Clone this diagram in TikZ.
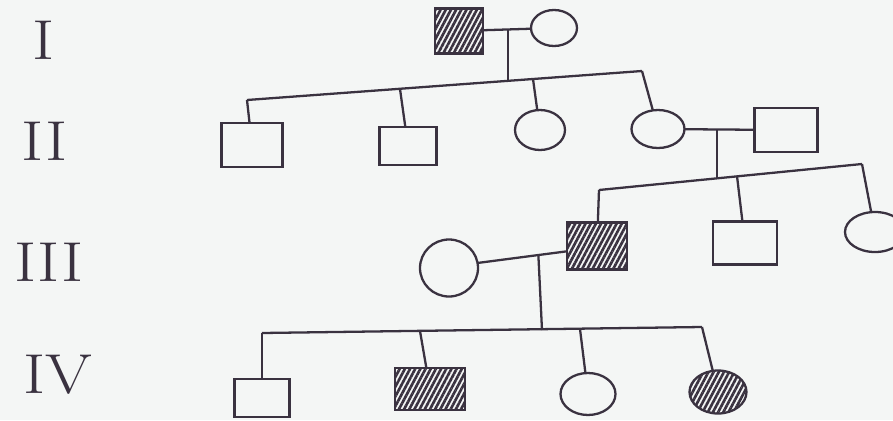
\documentclass[tikz,border=0pt]{standalone}
\usepackage{tikz,xcolor}
\usetikzlibrary{shapes.geometric,patterns.meta,calc}

\definecolor{ink}{RGB}{58,50,64}
\definecolor{paper}{RGB}{244,246,245}

\tikzset{
  sz/.style 2 args={minimum width=#1*0.02cm, minimum height=#2*0.02cm},
  male/.style={draw=ink, rectangle, line width=1.3pt, inner sep=0pt, outer sep=0pt},
  female/.style={draw=ink, ellipse, line width=1.3pt, inner sep=0pt, outer sep=0pt},
  affected/.style={pattern={Lines[angle=62,distance=2.6pt,line width=1.5pt]}, pattern color=ink},
  gen/.style={text=ink, font=\fontsize{32}{36}\selectfont, xscale=1.2},
  link/.style={draw=ink, line width=1.3pt}
}

\begin{document}
\begin{tikzpicture}[x=0.02cm, y=-0.02cm]
            \useasboundingbox (0,0) rectangle (893,420);
            \clip (0,0) rectangle (893,420);
            \fill[paper] (0,0) rectangle (893,420);

            \node[gen] (gI)   at (44,  40) {I};
            \node[gen] (gII)  at (45, 141) {II};
            \node[gen] (gIII) at (49, 262) {III};
            \node[gen] (gIV)  at (58, 375) {IV};

            \node[male, affected, sz={48}{45}] (I1)  at (459,  31) {};
            \node[female, sz={46}{36}]         (I2)  at (554,  28) {};

            \node[male, sz={61}{44}]           (II1) at (252, 145) {};
            \node[male, sz={57}{38}]           (II2) at (408, 146) {};
            \node[female, sz={50}{40}]         (II3) at (540, 130) {};
            \node[female, sz={53}{38}]         (II4) at (658, 129) {};
            \node[male, sz={63}{44}]           (II5) at (786, 130) {};

            \node[female, sz={58}{57}]         (III2) at (449, 268) {};
            \node[male, affected, sz={60}{47}] (III1) at (597, 246) {};
            \node[male, sz={64}{43}]           (III3) at (745, 243) {};
            \node[female, sz={60}{40}]         (III4) at (875, 232) {};

            \node[male, sz={55}{38}]            (IV1) at (262, 398) {};
            \node[male, affected, sz={70}{42}]  (IV2) at (430, 389) {};
            \node[female, sz={55}{42}]          (IV3) at (588, 394) {};
            \node[female, affected, sz={57}{43}] (IV4) at (718, 392) {};

            \coordinate (mI)   at (508,  29);
            \coordinate (sIIa) at (247, 100);
            \coordinate (sIIb) at (400,  89);
            \coordinate (sIIc) at (508,  81);
            \coordinate (sIId) at (533,  79);
            \coordinate (sIIe) at (642,  71);

            \coordinate (mII)   at (717, 129);
            \coordinate (sIIIa) at (599, 190);
            \coordinate (sIIIb) at (717, 178);
            \coordinate (sIIIc) at (737, 176);
            \coordinate (sIIId) at (862, 164);

            \coordinate (mIII) at ($(III2.10)!0.68!(III1.190)$);
            \coordinate (sIVa) at (262, 333);
            \coordinate (sIVb) at (420, 331);
            \coordinate (sIVc) at (542, 330);
            \coordinate (sIVd) at (580, 329);
            \coordinate (sIVe) at (702, 327);

            \draw[link] (I1) -- (I2);
            \draw[link] (mI) -- (sIIc);
            \draw[link] (sIIa) -- (sIIe);
            \draw[link] (sIIa) -- (II1);
            \draw[link] (sIIb) -- (II2);
            \draw[link] (sIId) -- (II3);
            \draw[link] (sIIe) -- (II4);

            \draw[link] (II4) -- (II5);
            \draw[link] (mII) -- (sIIIb);
            \draw[link] (sIIIa) -- (sIIId);
            \draw[link] (sIIIa) -- (III1);
            \draw[link] (sIIIc) -- (III3);
            \draw[link] (sIIId) -- (III4);

            \draw[link] (III2.10) -- (III1.190);
            \draw[link] (mIII) -- (sIVc);
            \draw[link] (sIVa) -- (sIVe);
            \draw[link] (sIVa) -- (IV1);
            \draw[link] (sIVb) -- (IV2);
            \draw[link] (sIVd) -- (IV3);
            \draw[link] (sIVe) -- (IV4);
\end{tikzpicture}
\end{document}
